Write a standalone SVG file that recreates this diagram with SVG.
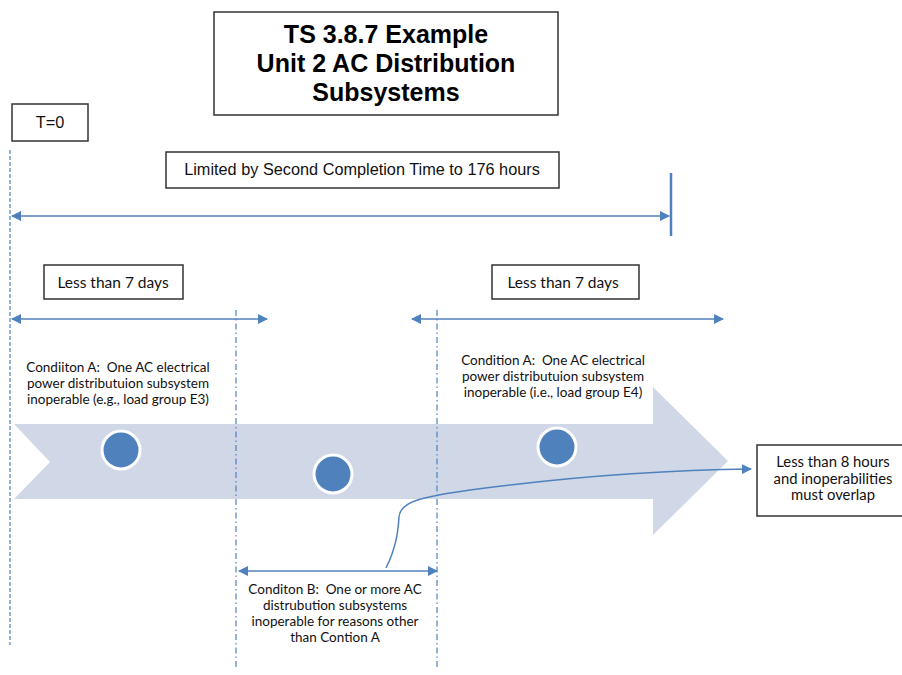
<svg xmlns="http://www.w3.org/2000/svg" width="902" height="675" viewBox="0 0 902 675">
<defs>
<style>
.box{fill:#fff;stroke:#333;stroke-width:1.5}
.ttl{font-family:"Liberation Sans",Arial,sans-serif;font-weight:bold;font-size:25px;fill:#000;text-anchor:middle}
.ar{font-family:"Liberation Sans",Arial,sans-serif;font-size:16.3px;fill:#111;text-anchor:middle}
.cal{font-family:Lato,"Open Sans",sans-serif;font-size:15.5px;fill:#111;text-anchor:middle}
.sm{font-family:Lato,"Open Sans",sans-serif;font-size:13.5px;fill:#111;text-anchor:middle}
.md{font-family:Lato,"Open Sans",sans-serif;font-size:14.8px;fill:#111;text-anchor:middle}
.ln{stroke:#4f81bd;stroke-width:1.5;fill:none}
.guide{stroke:#4f81bd;stroke-width:1.2;fill:none;stroke-dasharray:6,3,1.5,3}
.dot{fill:#4f81bd;stroke:#fff;stroke-width:3}
</style>
<marker id="ah" viewBox="0 0 10 10" refX="9" refY="5" markerWidth="10" markerHeight="10" markerUnits="userSpaceOnUse" orient="auto-start-reverse">
<path d="M0,0 L10,5 L0,10 z" fill="#4f81bd"/>
</marker>
</defs>

<g id="band">
<path d="M14,424 L653,424 L653,387 L728,461 L653,535 L653,499 L14,499 L50,462 Z" fill="#d0d8e7"/>
</g>

<g id="guides">
<line class="guide" x1="10" y1="150" x2="10" y2="645" style="stroke-dasharray:4,2"/>
<line class="guide" x1="236" y1="310" x2="236" y2="670"/>
<line class="guide" x1="437" y1="310" x2="437" y2="670"/>
</g>

<g id="title">
<rect class="box" x="214" y="12" width="344" height="103"/>
<text class="ttl" x="386" y="43">TS 3.8.7 Example</text>
<text class="ttl" x="386" y="72">Unit 2 AC Distribution</text>
<text class="ttl" x="386" y="101">Subsystems</text>
</g>

<g id="t0">
<rect class="box" x="12" y="104" width="76" height="37"/>
<text class="ar" x="50" y="128">T=0</text>
</g>

<g id="limited">
<rect class="box" x="166" y="152" width="393" height="36"/>
<text class="ar" x="362" y="175">Limited by Second Completion Time to 176 hours</text>
</g>

<g id="less7a">
<rect class="box" x="44" y="265" width="139" height="34"/>
<text class="cal" x="113" y="288">Less than 7 days</text>
</g>

<g id="less7b">
<rect class="box" x="492" y="265" width="147" height="34"/>
<text class="cal" x="563" y="288">Less than 7 days</text>
</g>

<g id="condA1">
<text class="sm" x="118" y="372" xml:space="preserve">Condiiton A:  One AC electrical</text>
<text class="sm" x="118" y="388">power distributuion subsystem</text>
<text class="sm" x="118" y="404">inoperable (e.g., load group E3)</text>
</g>

<g id="condA2">
<text class="sm" x="553" y="365" xml:space="preserve">Condition A:  One AC electrical</text>
<text class="sm" x="553" y="381">power distributuion subsystem</text>
<text class="sm" x="553" y="397">inoperable (i.e., load group E4)</text>
</g>

<g id="condB">
<text class="sm" x="335" y="594" xml:space="preserve">Conditon B:  One or more AC</text>
<text class="sm" x="335" y="610">distrubution subsystems</text>
<text class="sm" x="335" y="626">inoperable for reasons other</text>
<text class="sm" x="335" y="642">than Contion A</text>
</g>

<g id="less8">
<rect class="box" x="757" y="445" width="148" height="71"/>
<text class="md" x="833" y="467">Less than 8 hours</text>
<text class="md" x="833" y="483.5">and inoperabilities</text>
<text class="md" x="833" y="500">must overlap</text>
</g>

<g id="dots">
<circle class="dot" cx="121" cy="450" r="19"/>
<circle class="dot" cx="333" cy="474" r="19"/>
<circle class="dot" cx="557" cy="447" r="19"/>
</g>

<g id="connectors">
<line class="ln" x1="12" y1="216" x2="669" y2="216" marker-start="url(#ah)" marker-end="url(#ah)"/>
<line x1="671" y1="173" x2="671" y2="236" stroke="#4f81bd" stroke-width="2.5"/>
<line class="ln" x1="12" y1="319" x2="267" y2="319" marker-start="url(#ah)" marker-end="url(#ah)"/>
<line class="ln" x1="412" y1="319" x2="723" y2="319" marker-start="url(#ah)" marker-end="url(#ah)"/>
<line class="ln" x1="239" y1="571" x2="437" y2="571" marker-start="url(#ah)" marker-end="url(#ah)"/>
<path class="ln" d="M386,568 C396,548 398,532 399,517 C400,502 420,497 470,490 C560,478 660,470 751,469" marker-end="url(#ah)"/>
</g>
</svg>
